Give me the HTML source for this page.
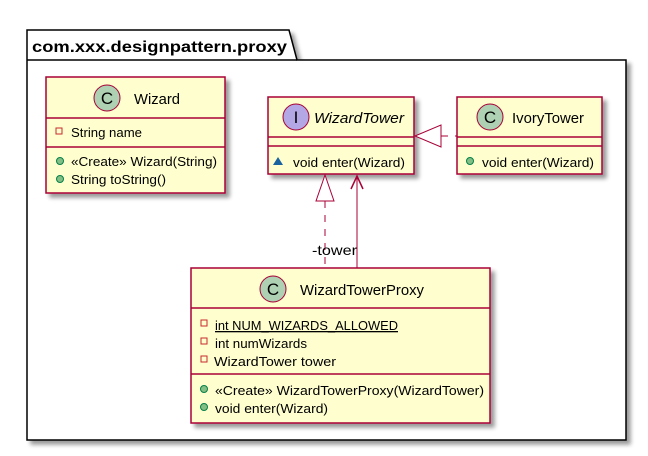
<!DOCTYPE html>
<html><head><meta charset="utf-8"><style>
body{margin:0;background:#fff}
svg{display:block;font-family:"Liberation Sans",sans-serif}
.t{font-size:13px;fill:#000}
</style></head><body>
<svg width="648" height="456" viewBox="0 0 648 456">
<defs>
<filter id="sh" x="-10%" y="-10%" width="130%" height="130%"><feGaussianBlur in="SourceAlpha" stdDeviation="2"/><feOffset dx="4" dy="4"/><feComponentTransfer><feFuncA type="linear" slope="0.4"/></feComponentTransfer><feMerge><feMergeNode/><feMergeNode in="SourceGraphic"/></feMerge></filter>
</defs>
<g filter="url(#sh)">
<path d="M27,30 L289,30 L297,60 L626,60 L626,440 L27,440 Z" fill="#fff" stroke="#000" stroke-width="1.5"/>
</g>
<line x1="27" y1="60" x2="297" y2="60" stroke="#000" stroke-width="1.5"/>
<text x="32" y="52" font-size="16" font-weight="bold" textLength="255" lengthAdjust="spacingAndGlyphs">com.xxx.designpattern.proxy</text>

<!-- Wizard -->
<g filter="url(#sh)"><rect x="46" y="77" width="179" height="116" fill="#FEFECE" stroke="#A80036" stroke-width="1.5"/></g>
<line x1="46" y1="118" x2="225" y2="118" stroke="#A80036" stroke-width="1.5"/>
<line x1="46" y1="147" x2="225" y2="147" stroke="#A80036" stroke-width="1.5"/>
<circle cx="107" cy="98" r="13" fill="#ADD1B2" stroke="#A80036"/>
<text x="107" y="104" font-size="17" text-anchor="middle">C</text>
<text x="134" y="104" font-size="15" textLength="46" lengthAdjust="spacingAndGlyphs">Wizard</text>
<rect x="56" y="128" width="6" height="6" fill="none" stroke="#C82930"/>
<text x="71" y="137" class="t" textLength="71" lengthAdjust="spacingAndGlyphs">String name</text>
<circle cx="60" cy="161" r="3.5" fill="#84BE84" stroke="#038048"/>
<text x="71" y="166" class="t" textLength="146" lengthAdjust="spacingAndGlyphs">«Create» Wizard(String)</text>
<circle cx="60" cy="179" r="3.5" fill="#84BE84" stroke="#038048"/>
<text x="71" y="184" class="t" textLength="95" lengthAdjust="spacingAndGlyphs">String toString()</text>

<!-- WizardTower -->
<g filter="url(#sh)"><rect x="268" y="97" width="146" height="77" fill="#FEFECE" stroke="#A80036" stroke-width="1.5"/></g>
<line x1="268" y1="137" x2="414" y2="137" stroke="#A80036" stroke-width="1.5"/>
<line x1="268" y1="146" x2="414" y2="146" stroke="#A80036" stroke-width="1.5"/>
<circle cx="296" cy="117" r="13" fill="#B4A7E5" stroke="#A80036"/>
<text x="296" y="123" font-size="17" text-anchor="middle">I</text>
<text x="314" y="123" font-size="15" font-style="italic" textLength="90" lengthAdjust="spacingAndGlyphs">WizardTower</text>
<polygon points="278,157 283,165 273,165" fill="#1963A0"/>
<text x="293" y="167" class="t" textLength="112" lengthAdjust="spacingAndGlyphs">void enter(Wizard)</text>

<!-- IvoryTower -->
<g filter="url(#sh)"><rect x="457" y="97" width="145" height="77" fill="#FEFECE" stroke="#A80036" stroke-width="1.5"/></g>
<line x1="457" y1="137" x2="602" y2="137" stroke="#A80036" stroke-width="1.5"/>
<line x1="457" y1="146" x2="602" y2="146" stroke="#A80036" stroke-width="1.5"/>
<circle cx="490" cy="117" r="13" fill="#ADD1B2" stroke="#A80036"/>
<text x="490" y="123" font-size="17" text-anchor="middle">C</text>
<text x="512" y="123" font-size="15" textLength="72" lengthAdjust="spacingAndGlyphs">IvoryTower</text>
<circle cx="470" cy="161" r="3.5" fill="#84BE84" stroke="#038048"/>
<text x="482" y="167" class="t" textLength="112" lengthAdjust="spacingAndGlyphs">void enter(Wizard)</text>

<line x1="441" y1="136" x2="457" y2="136" stroke="#A80036" stroke-dasharray="7,7"/>
<polygon points="415,136 441,125 441,147" fill="#fff" stroke="#A80036"/>

<!-- WizardTowerProxy -->
<g filter="url(#sh)"><rect x="191" y="268" width="299" height="155" fill="#FEFECE" stroke="#A80036" stroke-width="1.5"/></g>
<line x1="191" y1="308" x2="490" y2="308" stroke="#A80036" stroke-width="1.5"/>
<line x1="191" y1="374" x2="490" y2="374" stroke="#A80036" stroke-width="1.5"/>
<circle cx="273" cy="289" r="13" fill="#ADD1B2" stroke="#A80036"/>
<text x="273" y="295" font-size="17" text-anchor="middle">C</text>
<text x="300" y="295" font-size="15" textLength="124" lengthAdjust="spacingAndGlyphs">WizardTowerProxy</text>
<rect x="201" y="320" width="6" height="6" fill="none" stroke="#C82930"/>
<text x="215" y="330" class="t" text-decoration="underline" textLength="183" lengthAdjust="spacingAndGlyphs">int NUM_WIZARDS_ALLOWED</text>
<rect x="201" y="338" width="6" height="6" fill="none" stroke="#C82930"/>
<text x="215" y="348" class="t" textLength="92" lengthAdjust="spacingAndGlyphs">int numWizards</text>
<rect x="201" y="356" width="6" height="6" fill="none" stroke="#C82930"/>
<text x="214" y="366" class="t" textLength="122" lengthAdjust="spacingAndGlyphs">WizardTower tower</text>
<circle cx="204" cy="389" r="3.5" fill="#84BE84" stroke="#038048"/>
<text x="215" y="395" class="t" textLength="269" lengthAdjust="spacingAndGlyphs">«Create» WizardTowerProxy(WizardTower)</text>
<circle cx="204" cy="407" r="3.5" fill="#84BE84" stroke="#038048"/>
<text x="215" y="413" class="t" textLength="113" lengthAdjust="spacingAndGlyphs">void enter(Wizard)</text>

<line x1="325" y1="201" x2="325" y2="268" stroke="#A80036" stroke-dasharray="7,7"/>
<polygon points="325,175 316,201 334,201" fill="#fff" stroke="#A80036"/>
<line x1="357" y1="176" x2="357" y2="268" stroke="#A80036"/>
<polyline points="351,189 357,176 363,189" fill="none" stroke="#A80036" stroke-width="1.5"/>
<text x="312" y="255" font-size="14" textLength="45" lengthAdjust="spacingAndGlyphs">-tower</text>
</svg>
</body></html>
